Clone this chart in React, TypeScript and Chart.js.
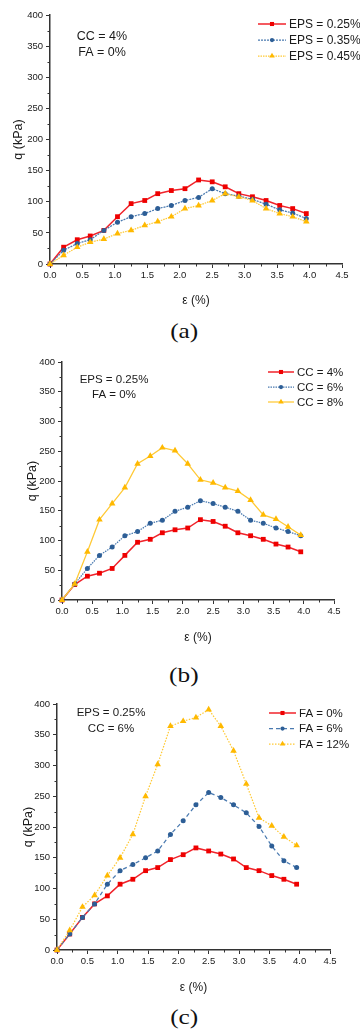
import React, { useEffect, useRef } from "react";
import { Chart, registerables } from "chart.js";

Chart.register(...registerables);

// ---------------- data ----------------
const strain = [0, 0.21, 0.42, 0.62, 0.83, 1.04, 1.25, 1.46, 1.66, 1.87, 2.08, 2.29, 2.5, 2.7, 2.91, 3.12, 3.33, 3.54, 3.74, 3.95];

// (a) CC = 4%, FA = 0%
const aLabels = ["EPS = 0.25%", "EPS = 0.35%", "EPS = 0.45%"];
const aEps025 = [0, 27, 39, 45, 54, 76, 97, 102, 113, 118, 121, 135, 132, 124, 113, 108, 102, 94, 89, 81];
const aEps035 = [0, 22, 33, 39, 54, 67, 76, 81, 89, 94, 102, 107, 121, 113, 109, 104, 96, 87, 82, 73];
const aEps045 = [0, 14, 27, 35, 40, 49, 54, 62, 68, 76, 89, 94, 102, 113, 108, 102, 89, 81, 76, 68];
const aNote = ["CC = 4%", "FA = 0%"];

// (b) EPS = 0.25%, FA = 0%
const bLabels = ["CC = 4%", "CC = 6%", "CC = 8%"];
const bCc4 = [0, 26, 40, 45, 53, 75, 97, 102, 113, 118, 121, 135, 132, 124, 113, 108, 102, 94, 89, 81];
const bCc6 = [0, 27, 53, 75, 89, 108, 115, 129, 134, 149, 156, 167, 162, 156, 149, 134, 129, 121, 115, 108];
const bCc8 = [0, 27, 81, 135, 162, 189, 229, 242, 256, 251, 229, 202, 197, 189, 183, 168, 143, 136, 123, 109];
const bNote = ["EPS = 0.25%", "FA = 0%"];

// (c) EPS = 0.25%, CC = 6%
const cLabels = ["FA = 0%", "FA = 6%", "FA = 12%"];
const cFa0 = [0, 26, 53, 75, 88, 107, 115, 129, 134, 147, 155, 166, 161, 156, 148, 134, 129, 121, 115, 107];
const cFa6 = [0, 26, 53, 75, 107, 129, 139, 150, 161, 188, 210, 236, 256, 248, 236, 223, 201, 169, 145, 134];
const cFa12 = [0, 32, 70, 89, 121, 150, 188, 250, 302, 364, 372, 378, 391, 364, 324, 270, 215, 202, 184, 170];
const cNote = ["EPS = 0.25%", "CC = 6%"];

const xTitle = "ε (%)";
const yTitle = "q (kPa)";
const yMinorTicks = [25, 75, 125, 175, 225, 275, 325, 375];
const xMinorTicks = [0.25, 0.75, 1.25, 1.75, 2.25, 2.75, 3.25, 3.75, 4.25];

// ---------------- styles ----------------
const FONT = "'Liberation Sans', Arial, sans-serif";
const AXIS = "#333333";
const TEXT = "#1a1a1a";
const RED = { line: "#f0232b", point: "#ee0000" };
const BLUE = { line: "#4a7ab0", point: "#2d5e96" };
const YEL = { line: "#ffc935", point: "#ffb900" };

Chart.defaults.font.family = FONT;

type Spec = {
  top: number; h: number;
  left: number; right: number; areaTop: number; bottom: number;
  series: number[][]; labels: string[];
  dashes: number[][];
  note: string[]; noteX: number; noteY: number; noteGap: number; noteSize: number;
  legX: number; legLen: number; legY: number; legGap: number; legSize: number;
  yTitlePad: number; xTitlePad: number;
  caption: string; capY: number;
};

const panels: Spec[] = [
  {
    top: 0, h: 312, left: 50, right: 342, areaTop: 15, bottom: 264,
    series: [aEps025, aEps035, aEps045], labels: aLabels,
    dashes: [[], [2, 1], [1.5, 1]],
    note: aNote, noteX: 102, noteY: 37, noteGap: 16, noteSize: 12.5,
    legX: 258, legLen: 28, legY: 24, legGap: 16, legSize: 12,
    yTitlePad: 11, xTitlePad: 4, caption: "(a)", capY: 331,
  },
  {
    top: 345, h: 305, left: 62, right: 334, areaTop: 362, bottom: 600,
    series: [bCc4, bCc6, bCc8], labels: bLabels,
    dashes: [[], [1.5, 1], []],
    note: bNote, noteX: 114, noteY: 380, noteGap: 15, noteSize: 11.5,
    legX: 268, legLen: 26, legY: 372, legGap: 15, legSize: 11.5,
    yTitlePad: 25, xTitlePad: 5, caption: "(b)", capY: 675,
  },
  {
    top: 690, h: 310, left: 57, right: 330, areaTop: 704, bottom: 950,
    series: [cFa0, cFa6, cFa12], labels: cLabels,
    dashes: [[], [4, 3], [1.5, 1.5]],
    note: cNote, noteX: 111, noteY: 713, noteGap: 16, noteSize: 11.5,
    legX: 269, legLen: 27, legY: 713, legGap: 15.5, legSize: 11.5,
    yTitlePad: 21, xTitlePad: 5, caption: "(c)", capY: 1017,
  },
];

const styles = [
  { c: RED, ps: "rect", r: 3.4, w: 1.5 },
  { c: BLUE, ps: "circle", r: 2.5, w: 1.25 },
  { c: YEL, ps: "triangle", r: 3.8, w: 1.25 },
];

function drawMarker(ctx: CanvasRenderingContext2D, style: string, x: number, y: number, r: number) {
  ctx.beginPath();
  if (style === "rect") {
    const s = r * Math.SQRT1_2;
    ctx.rect(x - s, y - s, 2 * s, 2 * s);
  } else if (style === "circle") {
    ctx.arc(x, y, r, 0, Math.PI * 2);
  } else {
    let a = 0;
    ctx.moveTo(x + Math.sin(a) * r, y - Math.cos(a) * r);
    a += (2 * Math.PI) / 3;
    ctx.lineTo(x + Math.sin(a) * r, y - Math.cos(a) * r);
    a += (2 * Math.PI) / 3;
    ctx.lineTo(x + Math.sin(a) * r, y - Math.cos(a) * r);
    ctx.closePath();
  }
  ctx.fill();
}

const decor = {
  id: "decor",
  afterDraw(chart: any, _args: any, opts: any) {
    const ctx: CanvasRenderingContext2D = chart.ctx;
    const area = chart.chartArea;
    const xs = chart.scales.x;
    const ys = chart.scales.y;
    const oy = opts.offsetTop;
    ctx.save();
    // minor ticks
    ctx.strokeStyle = AXIS;
    ctx.lineWidth = 1;
    ctx.beginPath();
    yMinorTicks.forEach((v) => {
      const p = Math.round(ys.getPixelForValue(v)) + 0.5;
      ctx.moveTo(area.left - 2.5, p);
      ctx.lineTo(area.left, p);
    });
    xMinorTicks.forEach((v) => {
      const p = Math.round(xs.getPixelForValue(v)) + 0.5;
      ctx.moveTo(p, area.bottom);
      ctx.lineTo(p, area.bottom + 2.5);
    });
    ctx.stroke();

    // annotation
    ctx.fillStyle = TEXT;
    ctx.font = `${opts.noteSize}px ${FONT}`;
    ctx.textAlign = "center";
    ctx.textBaseline = "middle";
    (opts.note as string[]).forEach((t, i) => ctx.fillText(t, opts.noteX, opts.noteY - oy + i * opts.noteGap));

    // legend
    chart.data.datasets.forEach((ds: any, i: number) => {
      const y = opts.legY - oy + i * opts.legGap;
      ctx.save();
      ctx.strokeStyle = ds.borderColor;
      ctx.lineWidth = ds.borderWidth;
      ctx.setLineDash(ds.borderDash || []);
      ctx.beginPath();
      ctx.moveTo(opts.legX, y);
      ctx.lineTo(opts.legX + opts.legLen, y);
      ctx.stroke();
      ctx.restore();
      ctx.fillStyle = ds.pointBackgroundColor;
      drawMarker(ctx, ds.pointStyle, opts.legX + opts.legLen / 2, y, ds.pointRadius * 0.85);
      ctx.fillStyle = TEXT;
      ctx.font = `${opts.legSize}px ${FONT}`;
      ctx.textAlign = "left";
      ctx.textBaseline = "middle";
      ctx.fillText(ds.label, opts.legX + opts.legLen + 3, y + 0.5);
    });
    ctx.restore();
  },
};

function buildConfig(sp: Spec): any {
  const datasets = sp.series.map((vals, i) => ({
    label: sp.labels[i],
    data: vals.map((v, j) => ({ x: strain[j], y: v })),
    borderColor: styles[i].c.line,
    backgroundColor: styles[i].c.point,
    pointBackgroundColor: styles[i].c.point,
    pointBorderColor: styles[i].c.point,
    pointBorderWidth: 0,
    pointStyle: styles[i].ps,
    pointRadius: styles[i].r,
    borderWidth: styles[i].w,
    borderDash: sp.dashes[i],
    tension: 0,
    fill: false,
    clip: false,
    order: 3 - i,
  }));
  const plotBottom = sp.bottom - sp.top;
  return {
    type: "line",
    data: { datasets },
    plugins: [decor],
    options: {
      animation: false,
      responsive: false,
      devicePixelRatio: 1,
      events: [],
      layout: {
        padding: { top: sp.areaTop - sp.top, right: 360 - sp.right, left: 0, bottom: 0 },
      },
      plugins: {
        legend: { display: false },
        tooltip: { enabled: false },
        decor: {
          offsetTop: sp.top,
          note: sp.note, noteX: sp.noteX, noteY: sp.noteY, noteGap: sp.noteGap, noteSize: sp.noteSize,
          legX: sp.legX, legLen: sp.legLen, legY: sp.legY, legGap: sp.legGap, legSize: sp.legSize,
        },
      },
      scales: {
        x: {
          type: "linear",
          min: 0,
          max: 4.5,
          afterFit: (s: any) => { s.height = sp.h - plotBottom; },
          border: { display: true, color: AXIS, width: 1.5 },
          grid: { display: true, drawOnChartArea: false, drawTicks: true, tickLength: 4, tickColor: AXIS, tickWidth: 1 },
          ticks: {
            stepSize: 0.5,
            autoSkip: false,
            maxRotation: 0,
            padding: 2,
            color: TEXT,
            font: { size: 9.5, family: FONT },
            callback: (v: any) => Number(v).toFixed(1),
          },
          title: { display: true, text: xTitle, color: TEXT, font: { size: 12, family: FONT }, padding: { top: 0, bottom: sp.xTitlePad } },
        },
        y: {
          type: "linear",
          min: 0,
          max: 400,
          afterFit: (s: any) => { s.width = sp.left; },
          border: { display: true, color: AXIS, width: 1.5 },
          grid: { display: true, drawOnChartArea: false, drawTicks: true, tickLength: 4, tickColor: AXIS, tickWidth: 1 },
          ticks: {
            stepSize: 50,
            autoSkip: false,
            padding: 3,
            color: TEXT,
            font: { size: 9.5, family: FONT },
          },
          title: { display: true, text: yTitle, color: TEXT, font: { size: 12.5, family: FONT }, padding: { top: sp.yTitlePad, bottom: 0 } },
        },
      },
    },
  };
}

function Panel({ sp }: { sp: Spec }) {
  const ref = useRef<HTMLCanvasElement>(null);
  useEffect(() => {
    const chart = new Chart(ref.current as HTMLCanvasElement, buildConfig(sp));
    return () => chart.destroy();
  }, [sp]);
  return (
    <>
      <canvas
        ref={ref}
        width={360}
        height={sp.h}
        style={{ position: "absolute", left: 0, top: sp.top, width: 360, height: sp.h, display: "block" }}
      />
      <div
        style={{
          position: "absolute",
          left: 0,
          width: 368,
          top: sp.capY - 13,
          height: 26,
          lineHeight: "26px",
          textAlign: "center",
          fontFamily: "'Liberation Serif', 'Times New Roman', serif",
          fontSize: 22,
          color: "#111",
        }}
      >
        <span style={{ display: "inline-block", transform: "scaleX(1.15)" }}>{sp.caption}</span>
      </div>
    </>
  );
}

export default function App() {
  return (
    <div style={{ position: "absolute", left: 0, top: 0, width: 360, height: 1030, background: "#fff", overflow: "hidden" }}>
      {panels.map((sp, i) => (
        <Panel key={i} sp={sp} />
      ))}
    </div>
  );
}
